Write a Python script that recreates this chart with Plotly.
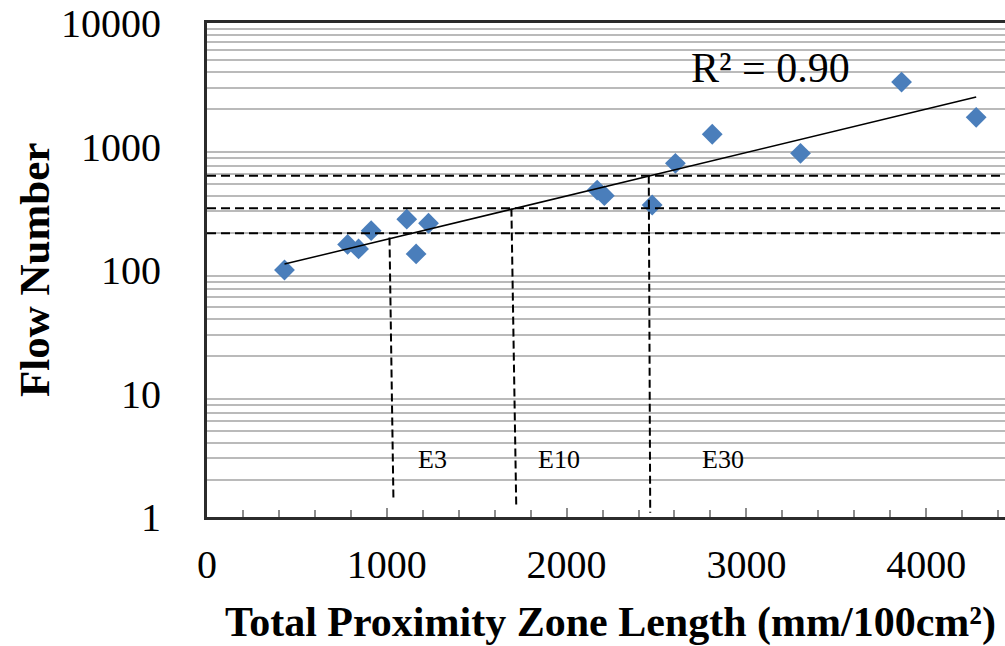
import numpy as np
import plotly.graph_objects as go

# ---- data ----
prox_length = [431, 782, 843, 913, 1111, 1163, 1232, 2170, 2210, 2476, 2605, 2810, 3301, 3863, 4278]
flow_number = [100, 161, 148, 208, 258, 135, 239, 444, 400, 336, 731, 1256, 881, 3327, 1723]

class_labels = ["E3", "E10", "E30"]
class_flow = [198, 316, 580]          # horizontal dashed threshold levels
class_x_top = [1015, 1693, 2457]      # vertical dashed lines (top)
class_x_bottom = [1037, 1720, 2465]   # vertical dashed lines (bottom)
class_y_top = [183, 314, 580]
class_y_bottom = [1.37, 1.2, 1.08]

x_ticks = [0, 1000, 2000, 3000, 4000]
y_ticks = [1, 10, 100, 1000, 10000]
y_minor = [m * 10 ** d for d in range(4) for m in range(2, 10)]

r2_text = "R² = 0.90"

# ---- geometry helpers ----
W, H = 1005, 646
ML, MR, MT, MB = 207, 0, 23, 129
PW, PH = W - ML - MR, H - MT - MB
X_MAX = PW / 0.1798


def px(x):
    return (x - ML) / PW


def py(y):
    return (H - MB - y) / PH


FONT = "Liberation Serif"

# trendline (exponential fit as in Excel)
coef = np.polyfit(prox_length, np.log10(flow_number), 1)
xt = np.linspace(min(prox_length), max(prox_length), 50)
yt = 10 ** np.polyval(coef, xt)

fig = go.Figure()

fig.add_trace(go.Scatter(
    x=prox_length, y=flow_number, mode="markers",
    marker=dict(symbol="diamond", size=16, color="#4A7EBB"),
    hoverinfo="x+y"))

fig.add_trace(go.Scatter(
    x=xt, y=yt, mode="lines", line=dict(color="black", width=1.5), hoverinfo="skip"))

for i in range(len(class_labels)):
    fig.add_trace(go.Scatter(
        x=[0, X_MAX], y=[class_flow[i], class_flow[i]], mode="lines",
        line=dict(color="black", width=2, dash="9px,5px"), hoverinfo="skip"))
    fig.add_trace(go.Scatter(
        x=[class_x_top[i], class_x_bottom[i]], y=[class_y_top[i], class_y_bottom[i]],
        mode="lines", line=dict(color="black", width=2, dash="8px,4px"), hoverinfo="skip"))

# white label boxes covering the gridlines
boxes = [(398, 497), (516, 639), (683, 808)]
label_cx = [432.5, 558.5, 723]
for (x0, x1) in boxes:
    fig.add_shape(type="rect", xref="paper", yref="paper",
                  x0=px(x0), x1=px(x1), y0=py(505), y1=py(432),
                  fillcolor="white", line=dict(width=0), layer="between")

annotations = []
for lab, cx in zip(class_labels, label_cx):
    annotations.append(dict(text=lab, xref="paper", yref="paper", x=px(cx), y=py(459),
                            xanchor="center", yanchor="middle", showarrow=False,
                            font=dict(family=FONT, size=26, color="black")))

annotations.append(dict(text=r2_text, xref="paper", yref="paper", x=px(770), y=py(68),
                        xanchor="center", yanchor="middle", showarrow=False,
                        font=dict(family=FONT, size=42, color="black")))

annotations.append(dict(text="<b>Total Proximity Zone Length (mm/100cm²)</b>",
                        xref="paper", yref="paper", x=px(610), y=py(622),
                        xanchor="center", yanchor="middle", showarrow=False,
                        font=dict(family=FONT, size=42, color="black")))

annotations.append(dict(text="<b>Flow Number</b>", xref="paper", yref="paper",
                        x=px(34), y=py(270), textangle=-90,
                        xanchor="center", yanchor="middle", showarrow=False,
                        font=dict(family=FONT, size=43, color="black")))

fig.update_layout(
    width=W, height=H,
    margin=dict(l=ML, r=MR, t=MT, b=MB, pad=0),
    paper_bgcolor="white", plot_bgcolor="white",
    showlegend=False,
    annotations=annotations,
    xaxis=dict(
        range=[0, X_MAX], tickmode="array", tickvals=x_ticks,
        ticktext=[str(v) for v in x_ticks],
        ticks="inside", ticklen=9, tickwidth=1.5, tickcolor="#8c8c8c",
        minor=dict(dtick=200, tick0=0, ticks="inside", ticklen=7, tickwidth=1.5,
                   tickcolor="#8c8c8c", showgrid=False),
        showgrid=False, zeroline=False,
        showline=True, linecolor="#2b2b2b", linewidth=3, mirror=True,
        tickfont=dict(family=FONT, size=40, color="black"),
        ticklabelstandoff=10,
    ),
    yaxis=dict(
        type="log", range=[0, 4], tickmode="array", tickvals=y_ticks,
        ticktext=[str(v) for v in y_ticks],
        ticks="", showgrid=False, zeroline=False,
        minor=dict(tickmode="array", tickvals=y_minor, showgrid=True,
                   gridcolor="#bababa", gridwidth=1.5, ticks=""),
        showline=True, linecolor="#2b2b2b", linewidth=3, mirror=False,
        tickfont=dict(family=FONT, size=40, color="black"),
        ticklabelstandoff=35,
    ),
)

fig.write_html("out.html",
               config={"displayModeBar": False},
               post_script="document.body.style.margin='0';document.body.style.padding='0';")
